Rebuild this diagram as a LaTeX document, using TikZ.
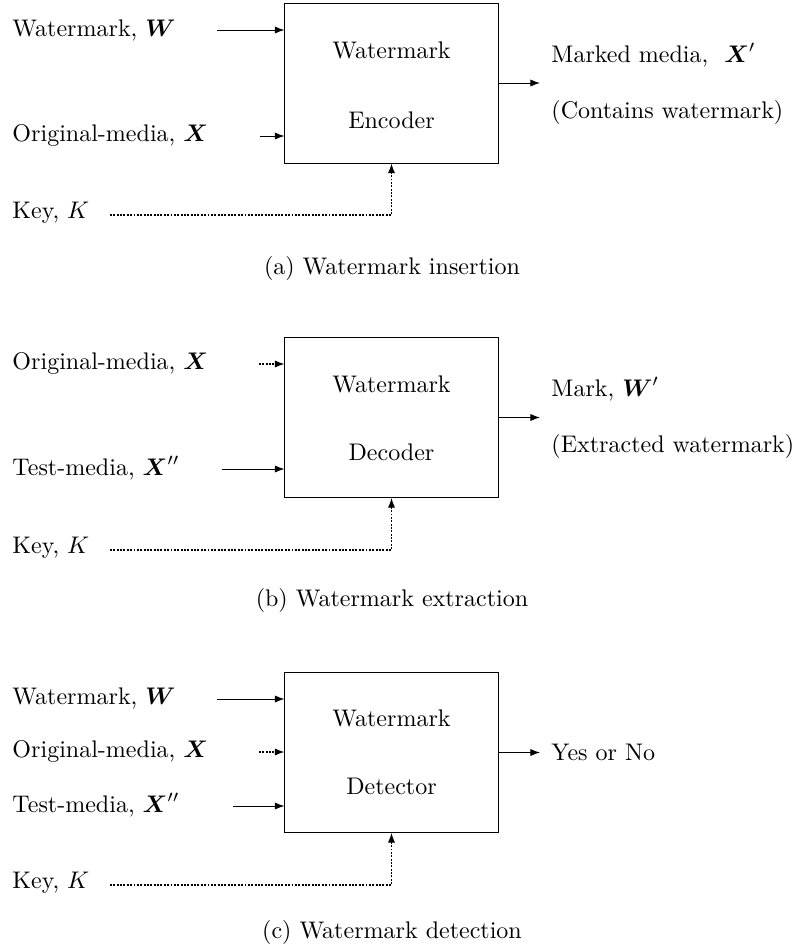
\documentclass[tikz,border=0pt]{standalone}
\usepackage{amssymb,amsmath}
\usetikzlibrary{arrows.meta,positioning}

\begin{document}
\begin{tikzpicture}[x=0.01464cm,y=-0.01464cm,
box/.style={draw,minimum width=3.118cm,minimum height=2.342cm},
lbl/.style={anchor=west,inner sep=0pt},
arr/.style={-{Latex[length=4pt,width=3pt]}},
dotarr/.style={arr,line width=0.5pt,dash pattern=on 0.8pt off 0.6pt}]
\useasboundingbox (0,0) rectangle (800,950);
% (a) insertion
\node[box] (Ba) at (391.5,83) {};
\node (Ta1) at (391.5,50) {Watermark};
\node (Ta2) at (391.5,120) {Encoder};
\node[lbl] (Wa) at (12,30) {Watermark, $\boldsymbol{W}$};
\node[lbl] (Xa) at (12,135) {Original-media, $\boldsymbol{X}$};
\node[lbl] (Ka) at (12,213) {Key, $K$};
\node[lbl] (Ma) at (551,55) {Marked media,~ $\boldsymbol{X}'$};
\node[lbl] (Ca) at (551,112) {(Contains watermark)};
\node (La) at (392,268) {(a) Watermark insertion};
\coordinate (wa) at (217,30);
\coordinate (xa) at (260,136);
\coordinate (ka) at (110,215);
\coordinate (oa) at (540,83);
\draw[arr] (wa) -- (wa -| Ba.west);
\draw[arr] (xa) -- (xa -| Ba.west);
\draw[dotarr] (ka) -| (Ba.south);
\draw[arr] (Ba.east) -- (oa);
% (b) extraction
\node[box] (Bb) at (391.5,417.5) {};
\node (Tb1) at (391.5,384) {Watermark};
\node (Tb2) at (391.5,452) {Decoder};
\node[lbl] (Xb) at (12,363) {Original-media, $\boldsymbol{X}$};
\node[lbl] (Yb) at (12,468) {Test-media, $\boldsymbol{X}''$};
\node[lbl] (Kb) at (12,548) {Key, $K$};
\node[lbl] (Mb) at (551,389) {Mark, $\boldsymbol{W}'$};
\node[lbl] (Cb) at (551,446) {(Extracted watermark)};
\node (Lb) at (392,600) {(b) Watermark extraction};
\coordinate (xb) at (259,364);
\coordinate (yb) at (222,469);
\coordinate (kb) at (110,550);
\coordinate (ob) at (540,417.5);
\draw[dotarr] (xb) -- (xb -| Bb.west);
\draw[arr] (yb) -- (yb -| Bb.west);
\draw[dotarr] (kb) -| (Bb.south);
\draw[arr] (Bb.east) -- (ob);
% (c) detection
\node[box] (Bc) at (391.5,752.5) {};
\node (Tc1) at (391.5,718) {Watermark};
\node (Tc2) at (391.5,786) {Detector};
\node[lbl] (Wc) at (12,698) {Watermark, $\boldsymbol{W}$};
\node[lbl] (Xc) at (12,751) {Original-media, $\boldsymbol{X}$};
\node[lbl] (Yc) at (12,805) {Test-media, $\boldsymbol{X}''$};
\node[lbl] (Kc) at (12,883) {Key, $K$};
\node[lbl] (Rc) at (551,752) {Yes or No};
\node (Lc) at (392,932) {(c) Watermark detection};
\coordinate (wc) at (217,699);
\coordinate (xc) at (259,752);
\coordinate (yc) at (233,806);
\coordinate (kc) at (110,885);
\coordinate (oc) at (540,752.5);
\draw[arr] (wc) -- (wc -| Bc.west);
\draw[dotarr] (xc) -- (xc -| Bc.west);
\draw[arr] (yc) -- (yc -| Bc.west);
\draw[dotarr] (kc) -| (Bc.south);
\draw[arr] (Bc.east) -- (oc);
\end{tikzpicture}
\end{document}
